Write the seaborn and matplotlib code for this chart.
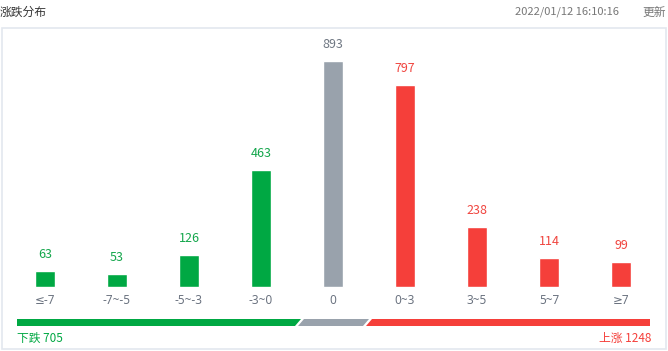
import matplotlib
matplotlib.use("Agg")
import matplotlib.pyplot as plt
import matplotlib.transforms as mtransforms
from matplotlib.patches import Polygon, Rectangle
import seaborn as sns
import pandas as pd

categories = ["≤-7", "-7~-5", "-5~-3", "-3~0", "0", "0~3", "3~5", "5~7", "≥7"]
counts = [63, 53, 126, 463, 893, 797, 238, 114, 99]
groups = ["down", "down", "down", "down", "flat", "up", "up", "up", "up"]
title = "涨跌分布"
timestamp = "2022/01/12 16:10:16"
update_text = "更新"
down_label = "下跌"
down_total = 705
up_label = "上涨"
up_total = 1248

GREEN = "#00a843"
GRAY = "#99a2ac"
RED = "#f53f3a"
bar_colors = {"down": GREEN, "flat": GRAY, "up": RED}
label_colors = {"down": "#13a64b", "flat": "#6f7782", "up": "#f0453f"}

sns.set_theme(style="white")
plt.rcParams["font.family"] = ["Noto Sans CJK SC", "DejaVu Sans"]

W, H = 668, 351
fig = plt.figure(figsize=(W / 100, H / 100), dpi=100)
ax = fig.add_axes([0, 0, 1, 1])

df = pd.DataFrame({"cat": categories, "count": counts, "grp": groups})
sns.barplot(data=df, x="cat", y="count", hue="grp", palette=bar_colors,
            dodge=False, width=0.28, legend=False, ax=ax, saturation=1)

# pixel mapping: bar 0 center at x=45, spacing 72 px; baseline at y=287 (from top)
ax.set_xlim(-45 / 72, (W - 45) / 72)
upp = 893 / 226.0
ax.set_ylim(-(H - 287) * upp, 287 * upp)
ax.axis("off")

# pixel transform (origin top-left)
pix = mtransforms.Affine2D().scale(1 / W, -1 / H).translate(0, 1) + fig.transFigure
xdata_ypix = mtransforms.blended_transform_factory(ax.transData, pix)

# value labels
for i, (c, g) in enumerate(zip(counts, groups)):
    ax.text(i, c + 10 * upp, str(c), ha="center", va="bottom",
            fontsize=9, color=label_colors[g])

# category labels
for i, cat in enumerate(categories):
    ax.text(i, 300, cat, transform=xdata_ypix, ha="center", va="center",
            fontsize=8.5, color="#6b7380", family=["Noto Sans", "DejaVu Sans"])

# frame box
fig.patches.append(Rectangle((2, 28), 664, 321, transform=pix, fill=False,
                             edgecolor="#e3e8ef", linewidth=1.2))

# header
fig.text(0, 12, title, transform=pix, ha="left", va="center", fontsize=8.5,
         color="#333333")
fig.text(619, 12, timestamp, transform=pix, ha="right", va="center",
         fontsize=8, color="#777777")
fig.text(666, 12, update_text, transform=pix, ha="right", va="center",
         fontsize=8.5, color="#777777")

# bottom distribution bar (slanted segments)
y0, y1 = 319, 326
s = 3
segs = [(17, 298, GREEN, False, True), (301, 366, GRAY, True, True),
        (369, 650, RED, True, False)]
for xa, xb, col, slant_l, slant_r in segs:
    pts = [(xa + (s if slant_l else 0), y0), (xb + (s if slant_r else 0), y0),
           (xb - (s if slant_r else 0), y1), (xa - (s if slant_l else 0), y1)]
    fig.patches.append(Polygon(pts, closed=True, transform=pix, facecolor=col,
                               edgecolor="none"))

fig.text(17, 338, f"{down_label} {down_total}", transform=pix, ha="left",
         va="center", fontsize=8.5, color=GREEN)
fig.text(651, 338, f"{up_label} {up_total}", transform=pix, ha="right",
         va="center", fontsize=8.5, color=RED)

fig.savefig("out.png", dpi=100)
